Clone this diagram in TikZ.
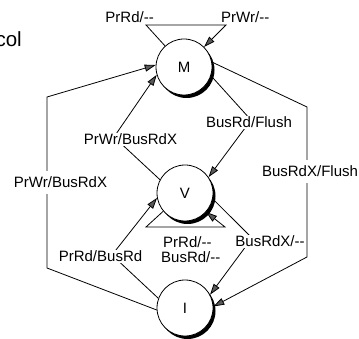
\documentclass[tikz,border=0pt]{standalone}
\usepackage{fontspec}
\setmainfont{Liberation Sans}
\usetikzlibrary{arrows.meta}
\begin{document}
\begin{tikzpicture}[x=1pt,y=-1pt,
  state/.style={circle,draw,line width=0.8pt,fill=white,minimum size=56pt,inner sep=0pt,font=\fontsize{15}{18}\selectfont},
  shadowc/.style={circle,fill=black,minimum size=56pt,inner sep=0pt},
  lab/.style={font=\fontsize{15}{18}\selectfont,inner sep=1pt,fill=white},
  gaplab/.style={lab,inner ysep=6pt},
  tr/.style={line width=0.8pt,-{Triangle[length=11pt,width=7pt,fill=black!65]}},
  ln/.style={line width=0.8pt}]
\useasboundingbox (0,0) rectangle (359,339);
% title fragment
\node[font=\fontsize{20.5}{24}\selectfont,anchor=base east,inner sep=0pt] (title) at (22,47) {col};
% shadows
\node[shadowc] (Ms) at (186.5,70) {};
\node[shadowc] (Vs) at (187.5,196) {};
\node[shadowc] (Is) at (187.5,311) {};
% states
\node[state] (M) at (184,67) {M};
\node[state] (V) at (185,193) {V};
\node[state] (I) at (185,308) {I};
% corner coordinates
\coordinate (m1) at (146,25);
\coordinate (m2) at (226,25);
\coordinate (v1) at (146,227);
\coordinate (v2) at (225,227);
\coordinate (a1) at (47,268);
\coordinate (a2) at (47,97);
\coordinate (b1) at (114,137);
\coordinate (c1) at (112,255);
\coordinate (d1) at (251,120);
\coordinate (e1) at (307,107);
\coordinate (e2) at (307,257);
\coordinate (f1) at (252,238);
% edges
\draw[tr] (M.132) -- (m1) -- (m2) -- (M.45);
\draw[tr] (V.220) -- (v1) -- (v2) -- (V.318);
\draw[tr] (I.184) -- (a1) -- (a2) -- (M.176);
\draw[tr] (V.152) -- (b1) -- (M.196);
\draw[tr] (I.160) -- (c1) -- (V.190);
\draw[tr] (M.-18) -- (d1) -- (V.34);
\draw[tr] (M.10) -- (e1) -- (e2) -- (I.3);
\draw[tr] (V.-12) -- (f1) -- (I.28);
% labels
\node[lab,fill=none,anchor=base east] (l1) at (155,23) {PrRd/-{}-};
\node[lab,fill=none,anchor=base west] (l2) at (220,23) {PrWr/-{}-};
\node[gaplab,anchor=base] (l3) at (60.5,188) {PrWr/BusRdX};
\node[lab,anchor=base] (l4) at (130.5,145) {PrWr/BusRdX};
\node[lab,anchor=base] (l5) at (249,128) {BusRd/Flush};
\node[gaplab,anchor=base] (l6) at (310,177) {BusRdX/Flush};
\node[lab,anchor=base] (l7) at (100.5,262) {PrRd/BusRd};
\node[lab,anchor=base] (l8) at (270,247) {BusRdX/-{}-};
\node[lab,fill=none,anchor=base west] (l9) at (162,248) {PrRd/-{}-};
\node[lab,fill=none,anchor=base west] (l10) at (160,263) {BusRd/-{}-};
\end{tikzpicture}
\end{document}
